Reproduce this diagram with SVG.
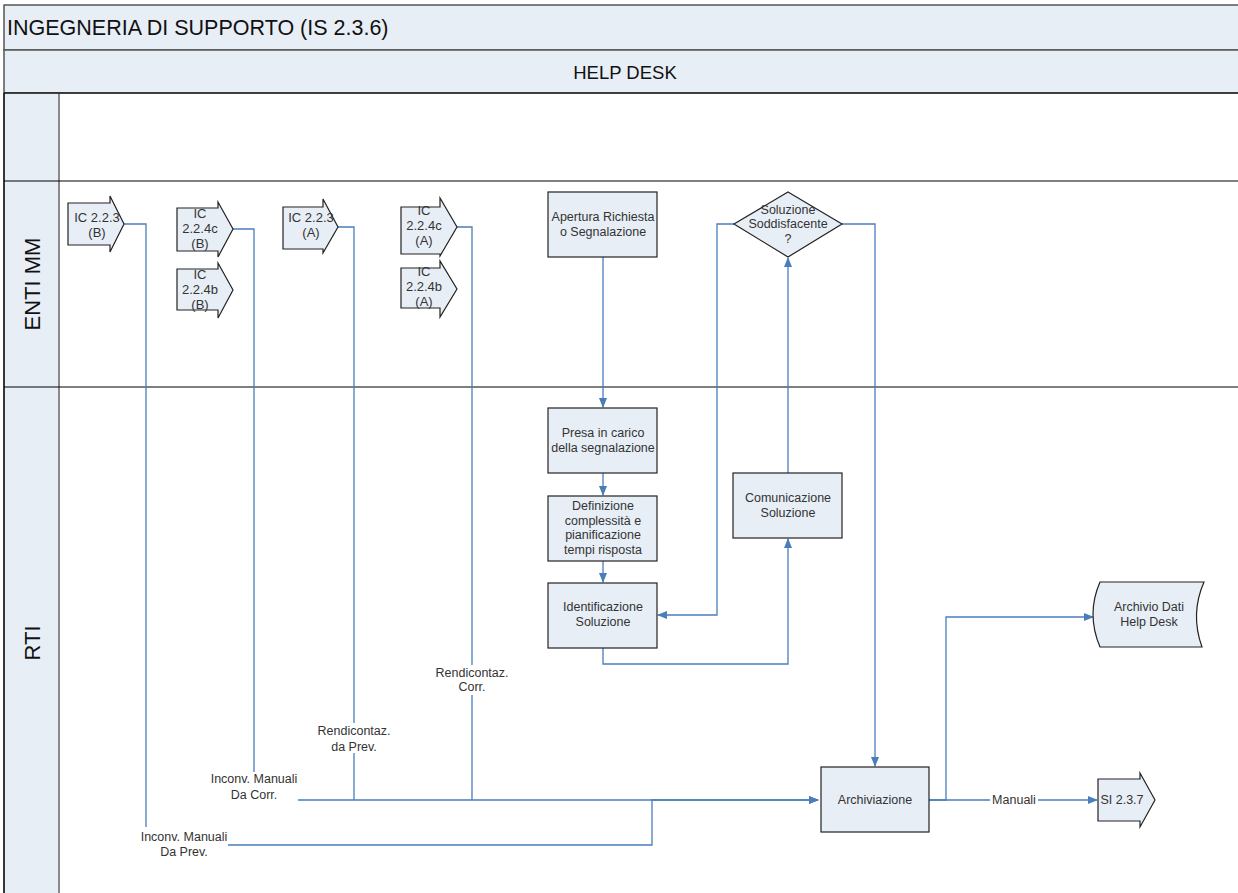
<svg xmlns="http://www.w3.org/2000/svg" width="1238" height="893" viewBox="0 0 1238 893">
<style>
.hdr{fill:#e8eef6;stroke:#555;stroke-width:1.5}
.lane{fill:#e8eef6;stroke:#666;stroke-width:1.5}
.sep{stroke:#000;stroke-width:1.2;fill:none}
.box{fill:#e8eef6;stroke:#222;stroke-width:1.2}
.t{font-family:"Liberation Sans",Arial,sans-serif;font-size:12.5px;fill:#333;text-anchor:middle}
.ic{font-size:13px}
.big{font-family:"Liberation Sans",Arial,sans-serif;fill:#111}
.c{fill:none;stroke:#4a7ebb;stroke-width:1.3}
.lbl{fill:#fff}
</style>
<defs>
<marker id="ah" markerWidth="10" markerHeight="8" refX="9" refY="4" orient="auto" markerUnits="userSpaceOnUse">
<path d="M0,0 L10,4 L0,8 Z" fill="#4a7ebb"/>
</marker>
</defs>
<rect width="1238" height="893" fill="#fff"/>
<g id="pool">
<rect class="hdr" x="4" y="5" width="1240" height="45"/>
<text class="big" x="7" y="35" font-size="21.5">INGEGNERIA DI SUPPORTO (IS 2.3.6)</text>
<rect class="hdr" x="4" y="50" width="1240" height="43"/>
<text class="big" x="625" y="79" font-size="18.5" text-anchor="middle">HELP DESK</text>
<rect class="lane" x="4" y="93" width="55" height="805"/>
<line class="sep" x1="4" y1="93" x2="1238" y2="93"/>
<line class="sep" x1="4" y1="181" x2="1238" y2="181"/>
<line class="sep" x1="4" y1="387" x2="1238" y2="387"/>
<line class="sep" x1="4" y1="93" x2="4" y2="893"/>
<text class="big" font-size="22" text-anchor="middle" transform="translate(40,284) rotate(-90)">ENTI MM</text>
<text class="big" font-size="22" text-anchor="middle" transform="translate(40,643) rotate(-90)">RTI</text>
</g>
<g id="connectors">
<path class="c" d="M124,224 H146 V845 H652 V800 H818" marker-end="url(#ah)"/>
<path class="c" d="M233,229 H254 V800 H818" marker-end="url(#ah)"/>
<path class="c" d="M338,227 H354 V800"/>
<path class="c" d="M457,227 H472 V800"/>
<path class="c" d="M603,257 V407" marker-end="url(#ah)"/>
<path class="c" d="M603,473 V495" marker-end="url(#ah)"/>
<path class="c" d="M603,561 V582" marker-end="url(#ah)"/>
<path class="c" d="M603,648 V664 H788 V539" marker-end="url(#ah)"/>
<path class="c" d="M788,473 V258" marker-end="url(#ah)"/>
<path class="c" d="M734,224 H717 V615 H658" marker-end="url(#ah)"/>
<path class="c" d="M842,224 H875 V766" marker-end="url(#ah)"/>
<path class="c" d="M929,800 H946 V617 H1093" marker-end="url(#ah)"/>
<path class="c" d="M929,800 H1097" marker-end="url(#ah)"/>
<rect class="lbl" x="132" y="827" width="96" height="30"/>
<text class="t" x="184" y="841">Inconv. Manuali</text>
<text class="t" x="184" y="856">Da Prev.</text>
<rect class="lbl" x="210" y="772" width="88" height="30"/>
<text class="t" x="254" y="783">Inconv. Manuali</text>
<text class="t" x="254" y="799">Da Corr.</text>
<rect class="lbl" x="316" y="723" width="76" height="30"/>
<text class="t" x="354" y="735">Rendicontaz.</text>
<text class="t" x="354" y="751">da Prev.</text>
<rect class="lbl" x="434" y="665" width="76" height="30"/>
<text class="t" x="472" y="677">Rendicontaz.</text>
<text class="t" x="472" y="691">Corr.</text>
<rect class="lbl" x="990" y="793" width="48" height="14"/>
<text class="t" x="1014" y="804">Manuali</text>
</g>
<g id="ic223b">
<path class="box" d="M68,203 H110 V196 L124,224 L110,252 V245 H68 Z"/>
<text class="t ic" x="97" y="222">IC 2.2.3</text>
<text class="t ic" x="97" y="237">(B)</text>
</g>
<g id="ic224cb">
<path class="box" d="M177,208 H218 V202 L233,229 L218,257 V251 H177 Z"/>
<text class="t ic" x="200" y="218">IC</text>
<text class="t ic" x="200" y="233">2.2.4c</text>
<text class="t ic" x="200" y="248">(B)</text>
</g>
<g id="ic224bb">
<path class="box" d="M177,269 H218 V263 L233,290 L218,318 V310 H177 Z"/>
<text class="t ic" x="200" y="279">IC</text>
<text class="t ic" x="200" y="294">2.2.4b</text>
<text class="t ic" x="200" y="309">(B)</text>
</g>
<g id="ic223a">
<path class="box" d="M283,207 H323 V199 L338,227 L323,253 V249 H283 Z"/>
<text class="t ic" x="311" y="222">IC 2.2.3</text>
<text class="t ic" x="311" y="237">(A)</text>
</g>
<g id="ic224ca">
<path class="box" d="M401,207 H440 V198 L457,227 L440,256 V254 H401 Z"/>
<text class="t ic" x="424" y="215">IC</text>
<text class="t ic" x="424" y="230">2.2.4c</text>
<text class="t ic" x="424" y="245">(A)</text>
</g>
<g id="ic224ba">
<path class="box" d="M401,268 H440 V261 L457,289 L440,317 V308 H401 Z"/>
<text class="t ic" x="424" y="276">IC</text>
<text class="t ic" x="424" y="291">2.2.4b</text>
<text class="t ic" x="424" y="306">(A)</text>
</g>
<g id="apertura">
<rect class="box" x="548" y="192" width="109" height="65"/>
<text class="t" x="603" y="221">Apertura Richiesta</text>
<text class="t" x="603" y="236">o Segnalazione</text>
</g>
<g id="presa">
<rect class="box" x="548" y="408" width="109" height="65"/>
<text class="t" x="603" y="437">Presa in carico</text>
<text class="t" x="603" y="452">della segnalazione</text>
</g>
<g id="definizione">
<rect class="box" x="548" y="496" width="109" height="65"/>
<text class="t" x="603" y="510">Definizione</text>
<text class="t" x="603" y="525">complessità e</text>
<text class="t" x="603" y="539">pianificazione</text>
<text class="t" x="603" y="554">tempi risposta</text>
</g>
<g id="identificazione">
<rect class="box" x="548" y="583" width="109" height="65"/>
<text class="t" x="603" y="611">Identificazione</text>
<text class="t" x="603" y="626">Soluzione</text>
</g>
<g id="comunicazione">
<rect class="box" x="733" y="473" width="109" height="65"/>
<text class="t" x="788" y="502">Comunicazione</text>
<text class="t" x="788" y="517">Soluzione</text>
</g>
<g id="soddisfacente">
<path class="box" d="M788,192 L842,224 L788,257 L734,224 Z"/>
<text class="t" x="788" y="214">Soluzione</text>
<text class="t" x="788" y="228">Soddisfacente</text>
<text class="t" x="788" y="243">?</text>
</g>
<g id="archiviazione">
<rect class="box" x="821" y="767" width="108" height="65"/>
<text class="t" x="875" y="804">Archiviazione</text>
</g>
<g id="archivio">
<path class="box" d="M1100,582 H1204 Q1190,614 1202,647 H1100 Q1086,614 1100,582 Z"/>
<text class="t" x="1149" y="611">Archivio Dati</text>
<text class="t" x="1149" y="626">Help Desk</text>
</g>
<g id="si237">
<path class="box" d="M1098,779 H1140 V773 L1155,800 L1140,827 V821 H1098 Z"/>
<text class="t" x="1122" y="804">SI 2.3.7</text>
</g>
</svg>
